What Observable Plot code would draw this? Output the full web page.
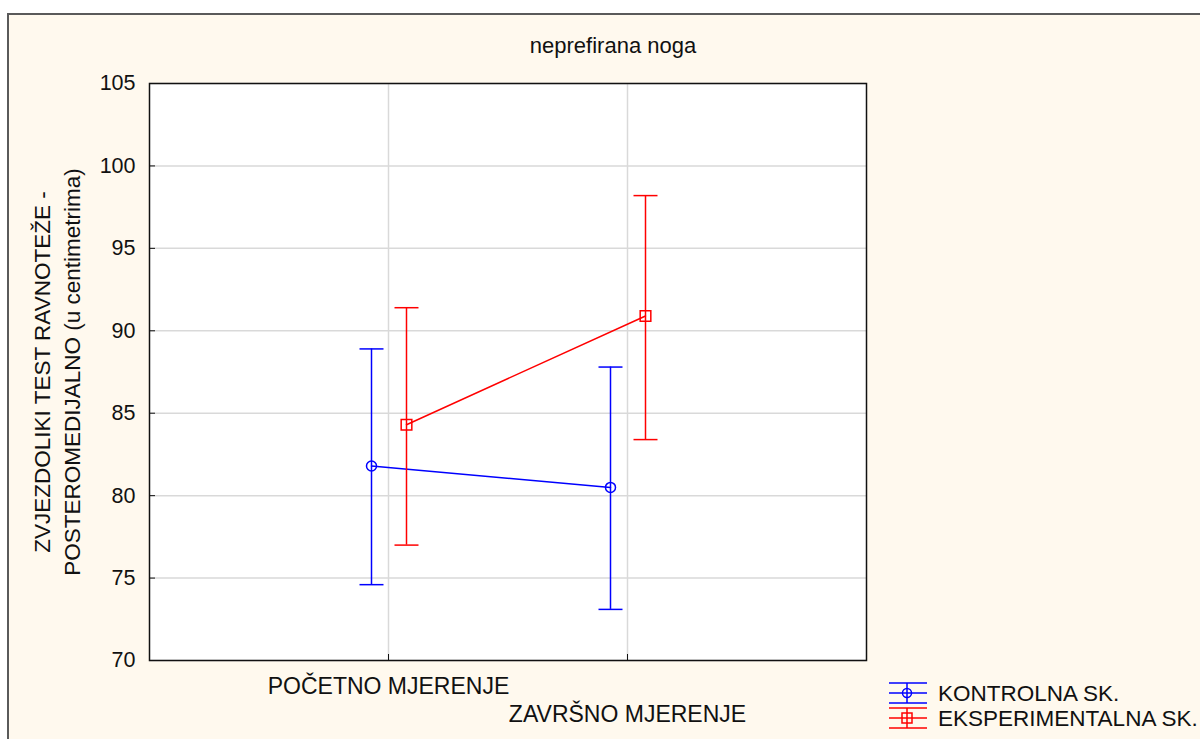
<!DOCTYPE html>
<html>
<head>
<meta charset="utf-8">
<script src="https://cdn.jsdelivr.net/npm/d3@7"></script>
<script src="https://cdn.jsdelivr.net/npm/@observablehq/plot@0.6"></script>
<style>
  body { margin: 0; width: 1200px; height: 739px; position: relative; overflow: hidden; background: #ffffff; font-family: "Liberation Sans", Arial, sans-serif; }
  #bg { position: absolute; left: 7px; top: 13px; width: 1200px; height: 740px; background: #fff9ee; border-top: 2px solid #5a5a5a; border-left: 2px solid #5a5a5a; }
  #chart { position: absolute; left: 0; top: 0; }
  #title { position: absolute; left: 0; width: 1226px; top: 33px; text-align: center; font-size: 22px; color: #111; }
  #legend { position: absolute; left: 885px; top: 672px; }
</style>
</head>
<body>
<div id="bg"></div>
<div id="title"></div>
<div id="chart"></div>
<div id="legend"></div>
<script>
// ---- data ----
const titleText = "neprefirana noga";
const yLabel = "ZVJEZDOLIKI TEST RAVNOTEŽE -\nPOSTEROMEDIJALNO (u centimetrima)";
const measurements = ["POČETNO MJERENJE", "ZAVRŠNO MJERENJE"];
const groups = ["KONTROLNA SK.", "EKSPERIMENTALNA SK."];
const groupColors = ["#0000ff", "#ff0000"];
const yTicks = [70, 75, 80, 85, 90, 95, 100, 105];

const kontrolnaMean = [81.8, 80.5];
const kontrolnaLow  = [74.6, 73.1];
const kontrolnaHigh = [88.9, 87.8];

const eksperimentalnaMean = [84.3, 90.9];
const eksperimentalnaLow  = [77.0, 83.4];
const eksperimentalnaHigh = [91.4, 98.2];

// ---- build tables ----
const kData = measurements.map((m, i) => ({measurement: m, group: groups[0], mean: kontrolnaMean[i], low: kontrolnaLow[i], high: kontrolnaHigh[i]}));
const eData = measurements.map((m, i) => ({measurement: m, group: groups[1], mean: eksperimentalnaMean[i], low: eksperimentalnaLow[i], high: eksperimentalnaHigh[i]}));

// whisker cap symbol (horizontal bar)
const capSymbol = {draw(context) { context.moveTo(-12, 0); context.lineTo(12, 0); }};

const series = [
  {data: kData, dx: -17, symbol: "circle", r: 5},
  {data: eData, dx: 18, symbol: "square", r: 6}
];

const sw = 1.5;
const seriesMarks = series.flatMap(s => [
  Plot.line(s.data, {x: "measurement", y: "mean", stroke: "group", strokeWidth: sw, dx: s.dx}),
  Plot.ruleX(s.data, {x: "measurement", y1: "low", y2: "high", stroke: "group", strokeWidth: sw, dx: s.dx}),
  Plot.dot(s.data, {x: "measurement", y: "high", stroke: "group", fill: "none", strokeWidth: sw, symbol: capSymbol, dx: s.dx}),
  Plot.dot(s.data, {x: "measurement", y: "low", stroke: "group", fill: "none", strokeWidth: sw, symbol: capSymbol, dx: s.dx}),
  Plot.dot(s.data, {x: "measurement", y: "mean", stroke: "group", fill: "none", strokeWidth: sw, symbol: s.symbol, r: s.r, dx: s.dx})
]);

const chart = Plot.plot({
  width: 1200,
  height: 739,
  marginLeft: 149,
  marginRight: 334,
  marginTop: 83,
  marginBottom: 79,
  style: {background: "transparent", fontFamily: "'Liberation Sans', Arial, sans-serif", fontSize: "21px", color: "#111"},
  x: {type: "point", domain: measurements, padding: 1, label: null},
  y: {domain: [70, 105], label: null},
  color: {domain: groups, range: groupColors},
  marks: [
    Plot.frame({fill: "white", stroke: null}),
    Plot.gridY(yTicks, {stroke: "#d9d9d9", strokeOpacity: 1, strokeWidth: 1.5}),
    Plot.gridX(measurements, {stroke: "#d9d9d9", strokeOpacity: 1, strokeWidth: 1.5}),
    ...seriesMarks,
    Plot.frame({stroke: "#111", strokeWidth: 1.5}),
    Plot.axisY(yTicks, {tickSize: -6, tickPadding: 20, label: null, fontSize: 21.5}),
    Plot.axisX([measurements[0]], {tickSize: -6, tickPadding: 23, label: null, fontSize: 23}),
    Plot.axisX([measurements[1]], {tickSize: -6, tickPadding: 51, label: null, fontSize: 23}),
    Plot.text([yLabel], {text: d => d, frameAnchor: "left", rotate: -90, dx: -94, textAnchor: "middle", fontSize: 22.5, lineHeight: 1.33, fill: "#111"})
  ]
});
document.getElementById("chart").appendChild(chart);
document.getElementById("title").textContent = titleText;

// ---- legend ----
const legend = d3.select("#legend").append("svg").attr("width", 315).attr("height", 67)
  .style("font-family", "'Liberation Sans', Arial, sans-serif");
const rows = legend.selectAll("g").data(groups).join("g")
  .attr("transform", (d, i) => `translate(0, ${21 + i * 25})`);
rows.each(function(g, i) {
  const row = d3.select(this);
  const c = groupColors[i];
  [-10, 0, 10].forEach(yy => row.append("line").attr("x1", 4).attr("x2", 42).attr("y1", yy).attr("y2", yy).attr("stroke", c).attr("stroke-width", 1.5));
  row.append("line").attr("x1", 22).attr("x2", 22).attr("y1", -10).attr("y2", 10).attr("stroke", c).attr("stroke-width", 1.5);
  if (i === 0) row.append("circle").attr("cx", 22).attr("cy", 0).attr("r", 4.5).attr("fill", "none").attr("stroke", c).attr("stroke-width", 1.5);
  else row.append("rect").attr("x", 17).attr("y", -5).attr("width", 10).attr("height", 10).attr("fill", "none").attr("stroke", c).attr("stroke-width", 1.5);
  row.append("text").attr("x", 53).attr("y", 8).attr("font-size", 22.5).attr("fill", "#111").text(g);
});
</script>
</body>
</html>
